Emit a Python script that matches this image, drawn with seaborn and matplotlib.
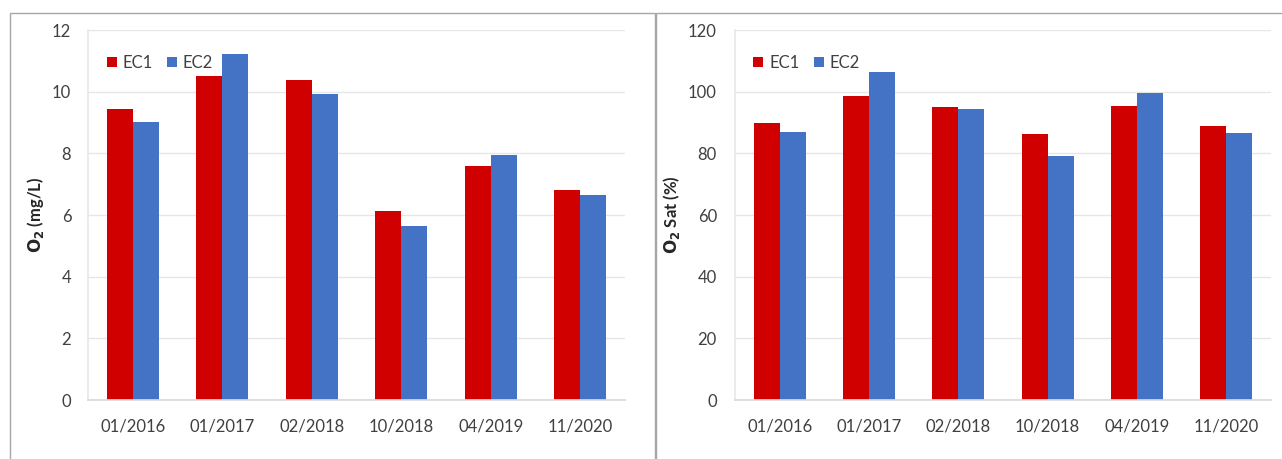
import matplotlib
matplotlib.use("Agg")
import matplotlib.pyplot as plt
import seaborn as sns
import pandas as pd
from matplotlib.patches import Rectangle
from matplotlib.lines import Line2D

dates = ["01/2016", "01/2017", "02/2018", "10/2018", "04/2019", "11/2020"]
o2_ec1 = [9.44, 10.50, 10.37, 6.12, 7.59, 6.81]
o2_ec2 = [9.03, 11.21, 9.94, 5.64, 7.95, 6.64]
sat_ec1 = [89.9, 98.7, 95.0, 86.2, 95.5, 89.0]
sat_ec2 = [87.0, 106.5, 94.3, 79.2, 99.6, 86.6]
series = ["EC1", "EC2"]

RED = "#D00000"
BLUE = "#4472C4"

sns.set_theme(style="white")
plt.rcParams["font.family"] = ["Lato", "DejaVu Sans"]


def long_df(a, b):
    return pd.DataFrame({
        "date": dates * 2,
        "value": list(a) + list(b),
        "series": [series[0]] * len(dates) + [series[1]] * len(dates),
    })


fig = plt.figure(figsize=(12.82, 4.59), dpi=100)
ax1 = fig.add_axes([0.0686, 0.1285, 0.4189, 0.8061])
ax2 = fig.add_axes([0.5733, 0.1285, 0.4181, 0.8061])

specs = [
    (ax1, long_df(o2_ec1, o2_ec2), 12, 2, r"$\mathbf{O_2}$ (mg/L)", 12),
    (ax2, long_df(sat_ec1, sat_ec2), 120, 20, r"$\mathbf{O_2}$ Sat (%)", 13),
]

for ax, df, ymax, step, ylabel, ypad in specs:
    sns.barplot(data=df, x="date", y="value", hue="series",
                palette=[RED, BLUE], width=0.58, ax=ax, legend=False,
                saturation=1, linewidth=0)
    ax.set_ylim(0, ymax)
    ax.set_xlim(-0.5, len(dates) - 0.5)
    ax.set_yticks(range(0, ymax + 1, step))
    ax.yaxis.grid(True, color="#E6E6E6", linewidth=1)
    ax.set_axisbelow(True)
    for s in ["top", "right"]:
        ax.spines[s].set_visible(False)
    ax.spines["left"].set_color("#E8E8E8")
    ax.spines["bottom"].set_color("#D9D9D9")
    ax.tick_params(axis="both", length=0, labelsize=12, colors="#404040")
    ax.tick_params(axis="x", pad=13)
    ax.tick_params(axis="y", pad=ypad)
    ax.set_xlabel("")
    ax.set_ylabel(ylabel, fontsize=12, fontweight="bold", color="#262626", labelpad=4)
    handles = [Line2D([0], [0], marker="s", linestyle="", markersize=7,
                      markerfacecolor=c, markeredgewidth=0) for c in (RED, BLUE)]
    ax.legend(handles, series, loc="center left", bbox_to_anchor=(0.033, 0.911),
              ncol=2, frameon=False, fontsize=12, handlelength=0.7,
              handletextpad=0.3, columnspacing=0.8, borderpad=0,
              borderaxespad=0, labelcolor="#404040")

# panel frames
top = 1 - 13 / 459
fig.patches.append(Rectangle((10 / 1282, -0.05), (655 - 10) / 1282, top + 0.05,
                             transform=fig.transFigure, fill=False,
                             edgecolor="#A6A6A6", linewidth=1))
fig.patches.append(Rectangle((656 / 1282, -0.05), (1290 - 656) / 1282, top + 0.05,
                             transform=fig.transFigure, fill=False,
                             edgecolor="#A6A6A6", linewidth=1))

fig.savefig("out.png", dpi=100)
